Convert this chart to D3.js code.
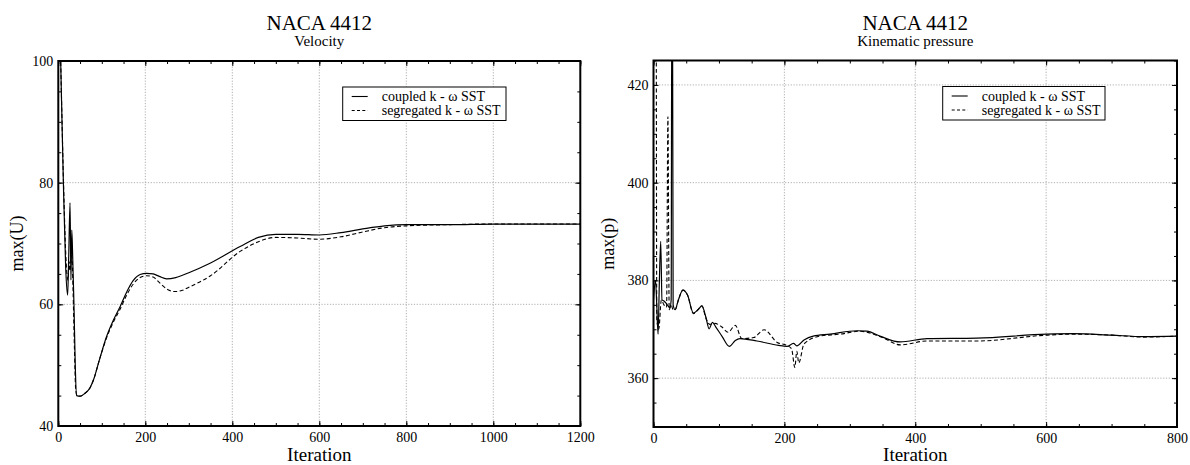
<!DOCTYPE html>
<html><head><meta charset="utf-8">
<script src="https://cdn.jsdelivr.net/npm/d3@7"></script>
<style>
body{margin:0;background:#fff;}
svg{display:block;font-family:"Liberation Serif","Times New Roman",serif;}
</style></head>
<body><svg id="c" width="1190" height="465"></svg>
<script>
// ---------- data ----------
const seriesNames = ["coupled k - \u03C9 SST", "segregated k - \u03C9 SST"];

const uCoupled = [[0,118],[5.5,100],[11.5,80.5],[17,66],[21.5,61.5],[24,68],[27,76.7],[29,64],[31,72.2],[33,68],[36,60],[39,50],[42,45],[50,44.9],[60,45.3],[73,46.3],[81,47.6],[95,51],[111,54.7],[126,57.3],[142,59.6],[157,62],[172,63.9],[188,64.9],[203,65.1],[218,65],[232,64.6],[249,64.2],[270,64.4],[300,65.2],[350,66.8],[418,69.5],[460,71],[500,71.5],[550,71.5],[600,71.4],[650,71.8],[700,72.4],[750,72.9],[800,73.1],[900,73.1],[1000,73.2],[1200,73.2]];
const uSegregated = [[0,118],[5.5,100],[12,80],[18,67],[22,64],[25,67],[27,65.5],[30,68],[32,67],[34,62],[37,53],[40,46],[43,45],[50,44.9],[60,45.3],[73,46.3],[81,47.6],[95,51],[111,54.5],[126,57],[142,59.2],[157,61.5],[172,63.3],[188,64.4],[203,64.7],[218,64.5],[232,63.6],[250,62.5],[268,62.1],[285,62.3],[300,62.8],[350,64.7],[418,68.7],[460,70.3],[500,71],[550,70.9],[600,70.7],[650,71.1],[700,71.9],[750,72.6],[800,72.9],[900,73.1],[1000,73.2],[1200,73.2]];

const pCoupled = [[0,376],[3,380],[5,375],[7,369],[9,380],[11,388],[13,376],[16,375.8],[20,375.2],[25,374.4],[27,376],[28,440],[29,440],[30,375],[33,374],[38,376],[45,378],[52,377],[61,373.3],[68,374],[74,374.8],[80,372.5],[85,370.1],[90,371.4],[95,370.5],[105,368.5],[116,366.5],[125,367.7],[132,368.1],[158,367.6],[191,366.7],[204,366.5],[214,367.1],[219,366.6],[230,367.8],[244,368.6],[270,369.0],[311,369.7],[326,369.6],[346,368.6],[377,367.4],[418,368.1],[494,368.2],[601,369.0],[642,369.1],[700,368.8],[749,368.5],[800,368.6]];
const pSegregated = [[0,440],[4,440],[5,372],[8,370],[12,376],[16,375],[20,374.5],[22,413.5],[24,374],[27,375],[30,374],[33,374],[38,376],[45,378],[52,377],[61,373.2],[68,374],[74,374.8],[80,372.3],[86,371],[94,371.2],[104,370.5],[114,369.4],[125,370.8],[135,368.1],[153,368.3],[169,369.9],[189,367.3],[204,366.7],[211,366.0],[216,362.2],[219,365.5],[222,363.1],[230,367],[254,368.6],[285,369.0],[315,369.6],[350,368.3],[377,366.8],[418,367.6],[494,367.6],[601,368.8],[642,369.0],[700,368.8],[749,368.4],[800,368.6]];

const uXTicks = [0,200,400,600,800,1000,1200];
const uYTicks = [40,60,80,100];
const pXTicks = [0,200,400,600,800];
const pYTicks = [360,380,400,420];

// ---------- drawing ----------
const svg = d3.select("#c");
const FONT = '"Liberation Serif","Times New Roman",serif';

function panel(cfg, idx){
  const x = d3.scaleLinear().domain(cfg.xDomain).range([cfg.x0, cfg.x1]);
  const y = d3.scaleLinear().domain(cfg.yDomain).range([cfg.y1, cfg.y0]);
  const g = svg.append("g");
  const cid = "clip"+idx;
  svg.append("defs").append("clipPath").attr("id",cid)
    .append("rect").attr("x",cfg.x0).attr("y",cfg.y0).attr("width",cfg.x1-cfg.x0).attr("height",cfg.y1-cfg.y0);

  // grid
  const grid = g.append("g").attr("stroke","#9a9a9a").attr("stroke-width",0.8).attr("stroke-dasharray","1.2,1.6");
  cfg.xTicks.filter(v=>v!==cfg.xDomain[0]&&v!==cfg.xDomain[1]).forEach(v=>{
    grid.append("line").attr("x1",x(v)).attr("x2",x(v)).attr("y1",cfg.y0).attr("y2",cfg.y1);
  });
  cfg.yTicks.filter(v=>v!==cfg.yDomain[0]&&v!==cfg.yDomain[1]).forEach(v=>{
    grid.append("line").attr("y1",y(v)).attr("y2",y(v)).attr("x1",cfg.x0).attr("x2",cfg.x1);
  });

  // minor/major inward ticks on all sides
  const xMinor = d3.range(cfg.xDomain[0], cfg.xDomain[1]+0.001, cfg.xMinor);
  const yMinor = d3.range(Math.ceil(cfg.yDomain[0]/cfg.yMinor)*cfg.yMinor, cfg.yDomain[1]+0.001, cfg.yMinor);
  const mk = (axisFn, scale, vals, size) => axisFn(scale).tickValues(vals).tickSize(-size).tickFormat("");
  const tickG = g.append("g");
  function addAxis(axis, tx, ty){
    const a = tickG.append("g").attr("transform",`translate(${tx},${ty})`).call(axis);
    a.select(".domain").remove();
    a.selectAll("line").attr("stroke","#000").attr("stroke-width",1);
  }
  addAxis(mk(d3.axisBottom, x, xMinor, 3), 0, cfg.y1);
  addAxis(mk(d3.axisTop, x, xMinor, 3), 0, cfg.y0);
  addAxis(mk(d3.axisLeft, y, yMinor, 3), cfg.x0, 0);
  addAxis(mk(d3.axisRight, y, yMinor, 3), cfg.x1, 0);
  addAxis(mk(d3.axisBottom, x, cfg.xTicks, 5), 0, cfg.y1);
  addAxis(mk(d3.axisTop, x, cfg.xTicks, 5), 0, cfg.y0);
  addAxis(mk(d3.axisLeft, y, cfg.yTicks, 5), cfg.x0, 0);
  addAxis(mk(d3.axisRight, y, cfg.yTicks, 5), cfg.x1, 0);

  // tick labels via axes
  const xl = g.append("g").attr("transform",`translate(0,${cfg.y1})`)
    .call(d3.axisBottom(x).tickValues(cfg.xTicks).tickSize(0).tickPadding(6).tickFormat(d3.format("d")));
  xl.select(".domain").remove();
  xl.selectAll("text").attr("font-family",FONT).attr("font-size",14).attr("fill","#000").attr("dy","0.71em");
  const yl = g.append("g").attr("transform",`translate(${cfg.x0},0)`)
    .call(d3.axisLeft(y).tickValues(cfg.yTicks).tickSize(0).tickPadding(5).tickFormat(d3.format("d")));
  yl.select(".domain").remove();
  yl.selectAll("text").attr("font-family",FONT).attr("font-size",14).attr("fill","#000");

  // lines
  const line = d3.line().x(d=>x(d[0])).y(d=>y(d[1])).curve(d3.curveMonotoneX);
  const lg = g.append("g").attr("clip-path",`url(#${cid})`);
  lg.append("path").datum(cfg.seg).attr("d",line).attr("fill","none").attr("stroke","#000")
    .attr("stroke-width",1.1).attr("stroke-dasharray","4,2.5");
  lg.append("path").datum(cfg.cpl).attr("d",line).attr("fill","none").attr("stroke","#000")
    .attr("stroke-width",1.2);

  // frame
  g.append("rect").attr("x",cfg.x0).attr("y",cfg.y0).attr("width",cfg.x1-cfg.x0).attr("height",cfg.y1-cfg.y0)
    .attr("fill","none").attr("stroke","#000").attr("stroke-width",2);

  // legend
  const L = cfg.legend;
  const leg = g.append("g");
  leg.append("rect").attr("x",L.x).attr("y",L.y).attr("width",L.w).attr("height",L.h)
    .attr("fill","#fff").attr("stroke","#000").attr("stroke-width",1);
  seriesNames.forEach((name,i)=>{
    const yy = L.y + 9.5 + i*14;
    leg.append("line").attr("x1",L.x+9).attr("x2",L.x+25).attr("y1",yy).attr("y2",yy)
      .attr("stroke","#000").attr("stroke-width",1.1).attr("stroke-dasharray", i? "3,2.3":null);
    leg.append("text").attr("x",L.x+39).attr("y",yy).attr("dy","0.33em")
      .attr("font-family",FONT).attr("font-size",14).text(name);
  });

  // titles
  const cx = (cfg.x0+cfg.x1)/2;
  svg.append("text").attr("x",cx).attr("y",30).attr("text-anchor","middle")
    .attr("font-family",FONT).attr("font-size",21).text("NACA 4412");
  svg.append("text").attr("x",cx).attr("y",46).attr("text-anchor","middle")
    .attr("font-family",FONT).attr("font-size",15).text(cfg.subtitle);
  svg.append("text").attr("x",cx).attr("y",461).attr("text-anchor","middle")
    .attr("font-family",FONT).attr("font-size",19).text("Iteration");
  svg.append("text").attr("transform",`translate(${cfg.ylabX},${(cfg.y0+cfg.y1)/2}) rotate(-90)`)
    .attr("text-anchor","middle").attr("font-family",FONT).attr("font-size",18).text(cfg.ylab);
}

panel({x0:58.3,x1:580.3,y0:61,y1:426,xDomain:[0,1200],yDomain:[40,100],xTicks:uXTicks,yTicks:uYTicks,
  xMinor:50,yMinor:5,cpl:uCoupled,seg:uSegregated,subtitle:"Velocity",ylab:"max(U)",ylabX:23,
  legend:{x:342.7,y:87,w:163.3,h:33.5}},0);
panel({x0:653.5,x1:1177,y0:60.5,y1:427,xDomain:[0,800],yDomain:[350,425],xTicks:pXTicks,yTicks:pYTicks,
  xMinor:50,yMinor:5,cpl:pCoupled,seg:pSegregated,subtitle:"Kinematic pressure",ylab:"max(p)",ylabX:614,
  legend:{x:942.7,y:86.5,w:162.3,h:33.5}},1);
</script></body></html>
